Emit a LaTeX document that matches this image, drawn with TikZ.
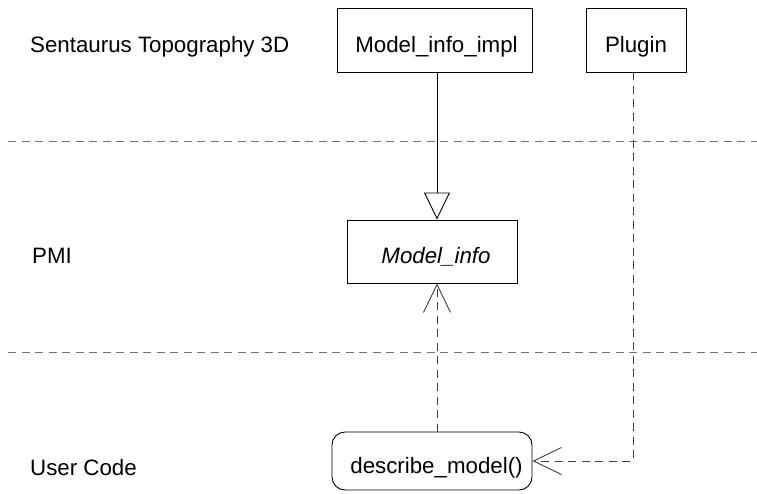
\documentclass[tikz,border=0pt]{standalone}
\usepackage{fontspec}
\setmainfont{Liberation Sans}
\usetikzlibrary{arrows.meta}
\begin{document}
\begin{tikzpicture}[x=1pt,y=-1pt,
  every node/.style={font=\fontsize{22.3}{26}\selectfont},
  umlbox/.style={draw=black,line width=0.9pt,inner sep=0pt,text height=30pt,text depth=6pt,fill=white},
  lane/.style={anchor=base west,inner sep=0pt},
  sep/.style={draw=black!55,line width=0.9pt,dash pattern=on 8pt off 5.5pt},
  dep/.style={draw=black!75,line width=0.9pt,dash pattern=on 8pt off 5.5pt,
    -{Straight Barb[length=28pt,width=27pt,line width=0.9pt]}},
  inherit/.style={draw=black,line width=0.9pt,
    -{Triangle[open,length=27pt,width=26pt,line width=0.9pt,fill=white]}}]
\useasboundingbox (0,0) rectangle (757,493);
\fill[white] (0,0) rectangle (757,493);

% lane labels
\node[lane] (l1) at (30,52) {Sentaurus Topography 3D};
\node[lane] (l2) at (32,263) {PMI};
\node[lane] (l3) at (30,475) {User Code};

% separators
\coordinate (s1a) at (8,141);
\coordinate (s1b) at (757,141);
\coordinate (s2a) at (8,352);
\coordinate (s2b) at (757,352);
\draw[sep] (s1a) -- (s1b);
\draw[sep] (s2a) -- (s2b);

% boxes
\node[umlbox,minimum width=195pt,minimum height=64pt] (impl) at (434.5,40) {\hspace*{4pt}Model\_info\_impl};
\node[umlbox,minimum width=100pt,minimum height=64pt] (plugin) at (636,40) {Plugin};
\node[umlbox,minimum width=170pt,minimum height=63pt] (info) at (432,251.5) {\hspace*{8pt}\itshape Model\_info};
\node[umlbox,rounded corners=13pt,minimum width=200pt,minimum height=58pt] (desc) at (432,461) {\hspace*{9pt}describe\_model()};

% connectors
\coordinate (lx) at (437,0);
\coordinate (px) at (633,0);
\draw[inherit] (impl.south -| lx) -- (info.north -| lx);
\draw[dep] (desc.north -| lx) -- (info.south -| lx);
\draw[dep] (plugin.south -| px) |- (desc.east);
\end{tikzpicture}
\end{document}
